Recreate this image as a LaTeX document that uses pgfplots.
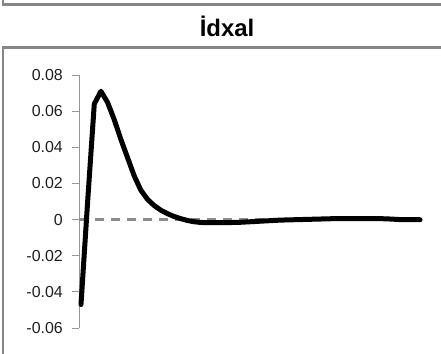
\documentclass[border=0pt]{standalone}
\usepackage{pgfplots}
\pgfplotsset{compat=1.18}
\usepackage{fontspec}
\setmainfont{Liberation Sans}
\definecolor{framegray}{RGB}{134,134,134}
\definecolor{axgray}{RGB}{150,150,150}
\definecolor{zgray}{RGB}{140,140,140}
\definecolor{lblgray}{RGB}{30,30,30}
\begin{document}
\begin{tikzpicture}
\begin{axis}[
  at={(79bp,26bp)}, anchor=south west,
  scale only axis, width=346bp, height=253bp,
  xmin=-0.3, xmax=51.75,
  ymin=-0.06, ymax=0.08,
  axis x line=none,
  axis y line*=left,
  y axis line style={axgray, line width=0.9bp, -},
  scaled y ticks=false,
  ytick={-0.06,-0.04,-0.02,0,0.02,0.04,0.06,0.08},
  yticklabels={-0.06,-0.04,-0.02,0,0.02,0.04,0.06,0.08},
  tick align=outside,
  major tick length=7bp,
  ytick style={axgray, line width=0.9bp},
  yticklabel style={font=\fontsize{16}{16}\selectfont, text=lblgray, inner sep=0pt, xshift=-9bp},
  clip=false,
]
\addplot[zgray, line width=2.3bp, dash pattern=on 9bp off 7bp] coordinates {(-0.3,0) (51,0)};
\addplot[black, line width=5bp, line join=round, line cap=round] coordinates {
(0,-0.047) (1,0.010) (2,0.064) (3,0.071) (4,0.0648) (5,0.0553) (6,0.0444) (7,0.0343)
(8,0.0242) (9,0.0163) (10,0.0112) (11,0.0078) (12,0.0052) (13,0.0033) (14,0.0017)
(15,0.0005) (16,-0.0005) (17,-0.0012) (18,-0.0016) (19,-0.0017) (20,-0.0017)
(21,-0.0017) (22,-0.0017) (23,-0.0016) (24,-0.0015) (25,-0.0013) (26,-0.0011)
(27,-0.0009) (28,-0.0007) (29,-0.0005) (30,-0.0003) (31,-0.0002) (32,-0.0001)
(33,0.0) (34,0.0001) (35,0.0002) (36,0.0003) (37,0.0004) (38,0.0005) (39,0.0005)
(40,0.0005) (41,0.0005) (42,0.0005) (43,0.0005) (44,0.0005) (45,0.0005)
(46,0.0004) (47,0.0002) (48,0.0) (49,-0.0001) (50,-0.0001) (51,-0.0001)
};
\end{axis}
\draw[framegray, line width=2.3bp] (3bp,360bp) -- (3bp,349.5bp) -- (450bp,349.5bp);
\draw[framegray, line width=2.3bp] (3bp,-10bp) -- (3bp,306.5bp) -- (450bp,306.5bp);
\node[font=\bfseries\fontsize{24}{24}\selectfont, anchor=base] at (227bp,317bp) {İdxal};
\pgfresetboundingbox
\useasboundingbox (0,0) rectangle (441bp,354bp);
\end{tikzpicture}
\end{document}
